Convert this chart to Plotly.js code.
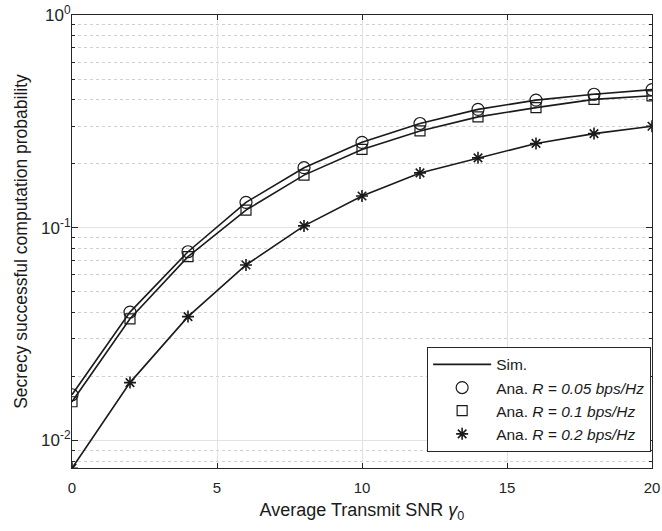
<!DOCTYPE html>
<html>
<head>
<meta charset="utf-8">
<script src="https://cdn.plot.ly/plotly-3.0.1.min.js"></script>
<style>html,body{margin:0;padding:0;background:#fff;}#chart{width:662px;height:531px;}</style>
</head>
<body>
<div id="chart"></div>
<script>
const snr = [0, 2, 4, 6, 8, 10, 12, 14, 16, 18, 20];
const pR005 = [0.0164, 0.0401, 0.0771, 0.1316, 0.1915, 0.252, 0.309, 0.360, 0.398, 0.424, 0.446];
const pR01  = [0.0152, 0.0373, 0.0731, 0.121, 0.1767, 0.2333, 0.285, 0.332, 0.367, 0.401, 0.417];
const pR02  = [0.0074, 0.0187, 0.0382, 0.0668, 0.102, 0.141, 0.181, 0.213, 0.249, 0.277, 0.300];
const seriesNames = ['Ana. <i>R = 0.05 bps/Hz</i>', 'Ana. <i>R = 0.1 bps/Hz</i>', 'Ana. <i>R = 0.2 bps/Hz</i>'];
const seriesSymbols = ['circle-open', 'square-open', 'asterisk-open'];
const yTickVals = [0.01, 0.1, 1];
const yTickText = ['10<sup>-2</sup>', '10<sup>-1</sup>', '10<sup>0</sup>'];
const xTickVals = [0, 5, 10, 15, 20];

const ink = '#1a1a1a';
const series = [pR005, pR01, pR02];
const markerSizes = [12, 10, 10];
const traces = [];
series.forEach((ys, i) => {
  traces.push({
    x: snr, y: ys, type: 'scatter', mode: 'lines',
    name: 'Sim.', showlegend: i === 0, legendrank: 1,
    line: {color: ink, width: 1.6}
  });
});
series.forEach((ys, i) => {
  traces.push({
    x: snr, y: ys, type: 'scatter', mode: 'markers',
    name: seriesNames[i], legendrank: 2 + i,
    marker: {symbol: seriesSymbols[i], size: markerSizes[i], color: ink,
             line: {color: ink, width: i === 2 ? 1.6 : 1.2}}
  });
});

const font = 'Liberation Sans, Arial, Helvetica, sans-serif';
const layout = {
  width: 662, height: 531,
  margin: {l: 72, r: 10, t: 15, b: 63},
  paper_bgcolor: '#fff', plot_bgcolor: '#fff',
  font: {family: font, color: '#262626', size: 15},
  showlegend: true,
  legend: {
    x: 0.9985, xanchor: 'right', y: 0.2675, yanchor: 'top',
    bgcolor: '#fff', bordercolor: '#262626', borderwidth: 1,
    font: {family: font, size: 15.5, color: '#1a1a1a'},
    tracegroupgap: 0, itemwidth: 58
  },
  xaxis: {
    range: [0, 20], tickvals: xTickVals, ticktext: xTickVals.map(String),
    ticks: 'inside', ticklen: 5, tickcolor: '#262626',
    showline: true, linecolor: '#262626', linewidth: 1, mirror: 'ticks',
    showgrid: true, gridcolor: '#e2e2e2', gridwidth: 1,
    zeroline: false, ticklabelstandoff: 6,
    tickfont: {family: font, size: 15, color: '#262626'},
    title: {text: 'Average Transmit SNR <i>γ</i><sub>0</sub>', font: {family: font, size: 18, color: '#1a1a1a'}, standoff: 8}
  },
  yaxis: {
    type: 'log', range: [Math.log10(0.00742), 0],
    tickvals: yTickVals, ticktext: yTickText,
    ticks: 'inside', ticklen: 6, tickcolor: '#262626',
    showline: true, linecolor: '#262626', linewidth: 1, mirror: 'ticks',
    showgrid: true, gridcolor: '#e2e2e2', gridwidth: 1,
    zeroline: false, ticklabelstandoff: -3,
    tickfont: {family: font, size: 17, color: '#262626'},
    minor: {dtick: 'D1', ticks: 'inside', ticklen: 3, tickcolor: '#262626',
            showgrid: true, gridcolor: '#d0d0d0', griddash: 'dot', gridwidth: 1},
    title: {text: 'Secrecy successful computation probability', font: {family: font, size: 17.5, color: '#1a1a1a'}, standoff: 8}
  }
};
Plotly.newPlot('chart', traces, layout, {displayModeBar: false, staticPlot: true});
</script>
</body>
</html>
